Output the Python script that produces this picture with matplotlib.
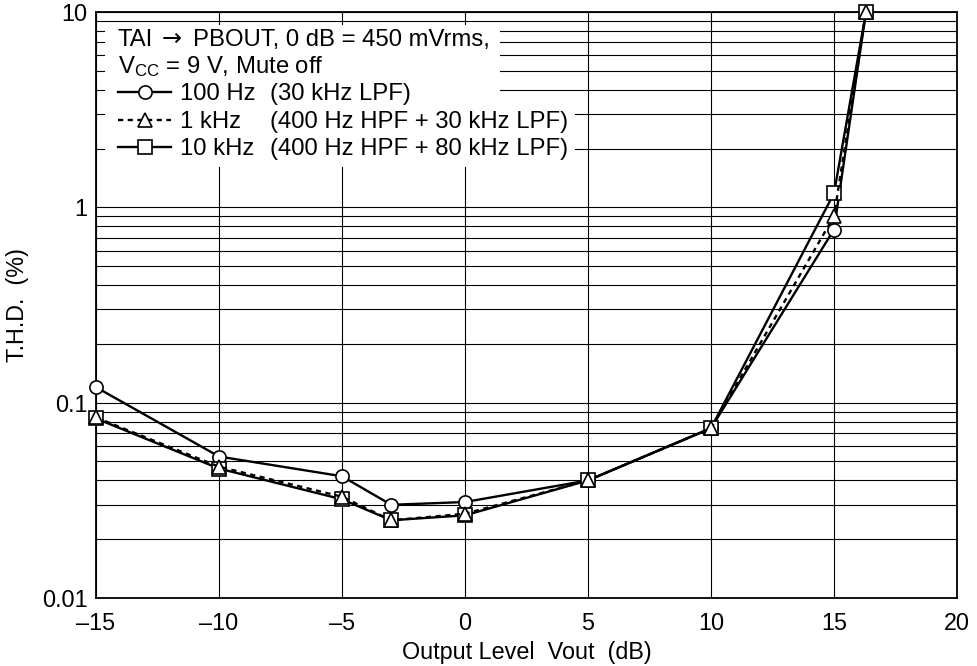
import matplotlib
matplotlib.use("Agg")
import matplotlib.pyplot as plt
from matplotlib.patches import Rectangle
from matplotlib.lines import Line2D
from matplotlib.ticker import FixedLocator, LogLocator, NullFormatter

plt.rcParams['font.family'] = ['Liberation Sans', 'DejaVu Sans']
plt.rcParams['mathtext.fontset'] = 'custom'
plt.rcParams['mathtext.rm'] = 'Liberation Sans'
plt.rcParams['mathtext.it'] = 'Liberation Sans'

# ---- data ----
vout = [-15, -10, -5, -3, 0, 5, 10, 15, 16.3]
thd_100hz = [0.12, 0.053, 0.042, 0.030, 0.031, 0.040, 0.074, 0.77, 10]
thd_1khz = [0.084, 0.047, 0.033, 0.025, 0.027, 0.040, 0.074, 0.90, 10]
thd_10khz = [0.083, 0.046, 0.032, 0.025, 0.0265, 0.040, 0.074, 1.18, 10]

x_ticks = [-15, -10, -5, 0, 5, 10, 15, 20]
x_ticklabels = ['–15', '–10', '–5', '0', '5', '10', '15', '20']
y_ticks = [0.01, 0.1, 1, 10]
y_ticklabels = ['0.01', '0.1', '1', '10']

FS = 16.8
FSL = 17.2
W, H = 977, 666
fig = plt.figure(figsize=(W / 100, H / 100), dpi=100)
L, R, T, B = 96, 957, 12, 598
ax = fig.add_axes([L / W, (H - B) / H, (R - L) / W, (B - T) / H])

ax.set_yscale('log')
ax.set_xlim(-15, 20)
ax.set_ylim(0.01, 10)
ax.xaxis.set_major_locator(FixedLocator(x_ticks))
ax.set_xticklabels(x_ticklabels)
ax.yaxis.set_major_locator(FixedLocator(y_ticks))
ax.set_yticklabels(y_ticklabels)
ax.yaxis.set_minor_locator(LogLocator(base=10, subs=range(2, 10)))
ax.yaxis.set_minor_formatter(NullFormatter())
ax.tick_params(axis='both', which='both', length=0, labelsize=FS)
ax.tick_params(axis='x', pad=10)
ax.tick_params(axis='y', pad=6)

ax.grid(True, which='major', axis='both', color='black', lw=0.8)
ax.grid(True, which='minor', axis='y', color='black', lw=0.8)
ax.set_axisbelow(True)
for s in ax.spines.values():
    s.set_linewidth(1.3)


def afx(px):
    return (px - L) / (R - L)


def afy(py):
    return (B - py) / (B - T)


# white area behind legend text
ax.add_patch(Rectangle((afx(105), afy(102)), afx(500) - afx(105), afy(25) - afy(102),
                       transform=ax.transAxes, facecolor='white', edgecolor='none', zorder=1.5))
ax.add_patch(Rectangle((afx(105), afy(167)), afx(575) - afx(105), afy(102) - afy(167),
                       transform=ax.transAxes, facecolor='white', edgecolor='none', zorder=1.5))

lw = 1.7
ms = 9.5
mew = 1.2
style_sq = dict(color='black', lw=lw, marker='s', ms=ms, mfc='white', mec='black', mew=mew)
style_tr = dict(color='black', lw=lw, marker='^', ms=ms, mfc='white', mec='black', mew=mew,
                linestyle=(0, (2.2, 1.9)))
style_ci = dict(color='black', lw=lw, marker='o', ms=ms, mfc='white', mec='black', mew=mew)

ax.plot(vout, thd_100hz, zorder=3.0, clip_on=False, **style_ci)
ax.plot(vout, thd_10khz, zorder=3.1, clip_on=False, **style_sq)
ax.plot(vout, thd_1khz, zorder=3.2, clip_on=False, **style_tr)

# legend / annotation text (rows = cap-middle pixel rows)
rows = [38, 65, 92, 120, 147]
BASE = 8.3


def txt(px, row, s, **kw):
    ax.text(afx(px), afy(row + BASE), s, transform=ax.transAxes, fontsize=FSL,
            va='baseline', ha='left', zorder=4, **kw)


txt(118, rows[0], 'TAI')
txt(162, rows[0], '\u2192', family=['DejaVu Sans'])
txt(193, rows[0], 'PBOUT, 0 dB = 450 mVrms,')
txt(118, rows[1], r'V$_{\mathrm{CC}}$ = 9 V, Mute off')

entries = [
    (style_ci, '100 Hz', '(30 kHz LPF)'),
    (style_tr, '1 kHz', '(400 Hz HPF + 30 kHz LPF)'),
    (style_sq, '10 kHz', '(400 Hz HPF + 80 kHz LPF)'),
]
for (st, f, desc), ry in zip(entries, rows[2:]):
    yy = afy(ry)
    ax.add_line(Line2D([afx(118), afx(171)], [yy, yy], transform=ax.transAxes,
                       color='black', lw=lw, linestyle=st.get('linestyle', '-'), zorder=4))
    ax.add_line(Line2D([afx(145)], [yy], transform=ax.transAxes, marker=st['marker'],
                       ms=ms, mfc='white', mec='black', mew=mew, linestyle='none', zorder=4.1))
    txt(180, ry, f)
    txt(270, ry, desc)

fig.text(18 / W, 1 - 305 / H, 'T.H.D.  (%)', rotation=90, fontsize=FS, ha='center', va='center')
fig.text(526.5 / W, 1 - 652 / H, 'Output Level  Vout  (dB)', fontsize=FS, ha='center', va='center')

fig.savefig('out.png', dpi=100)
